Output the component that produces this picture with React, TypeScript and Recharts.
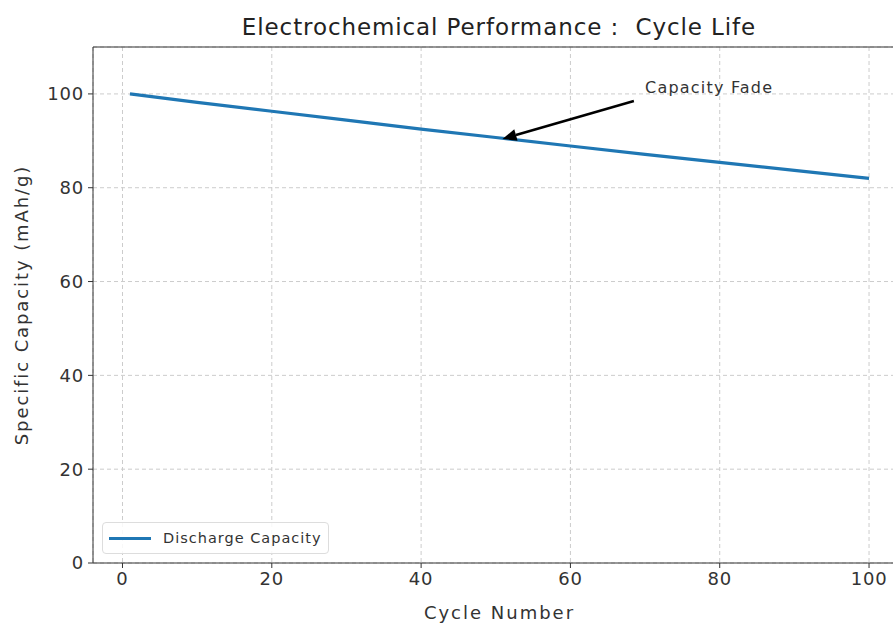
import React from "react";
import {
  LineChart,
  Line,
  XAxis,
  YAxis,
  CartesianGrid,
  ReferenceLine,
  ReferenceDot,
} from "recharts";

const cycles = [1, 10, 20, 30, 40, 50, 60, 70, 80, 90, 100];
const capacity = [100, 98.2, 96.3, 94.4, 92.5, 90.7, 88.9, 87.1, 85.4, 83.7, 82.0];
const xTicks = [0, 20, 40, 60, 80, 100];
const yTicks = [0, 20, 40, 60, 80, 100];

const data = cycles.map((c, i) => ({ cycle: c, cap: capacity[i] }));

const font = "'DejaVu Sans', sans-serif";

function Arrow(props: any) {
  const { x1, y1, x2, y2 } = props;
  if (x1 == null) return null;
  const ang = Math.atan2(y2 - y1, x2 - x1);
  const len = 14;
  const w = 6;
  const bx = x2 - len * Math.cos(ang);
  const by = y2 - len * Math.sin(ang);
  const px = -Math.sin(ang) * w;
  const py = Math.cos(ang) * w;
  return (
    <g>
      <line x1={x1} y1={y1} x2={bx} y2={by} stroke="#000" strokeWidth={2.5} />
      <polygon
        points={`${x2},${y2} ${bx + px},${by + py} ${bx - px},${by - py}`}
        fill="#000"
      />
    </g>
  );
}

export default function App() {
  return (
    <div
      style={{
        position: "fixed",
        left: 0,
        top: 0,
        width: 893,
        height: 627,
        overflow: "hidden",
        background: "#fff",
      }}
    >
      <div
        style={{
          position: "absolute",
          top: 14,
          left: 0,
          width: 998,
          textAlign: "center",
          fontFamily: font,
          fontSize: 23,
          letterSpacing: 0.9,
          color: "#222",
        }}
      >
        Electrochemical Performance :&nbsp; Cycle Life
      </div>
      <LineChart
        width={910}
        height={627}
        data={data}
        margin={{ top: 47, right: 4, left: 13, bottom: 34 }}
      >
        <CartesianGrid stroke="#ccc" strokeDasharray="4 3" />
        <XAxis
          dataKey="cycle"
          type="number"
          domain={[-3.95, 104.95]}
          ticks={xTicks}
          allowDataOverflow
          height={30}
          tickSize={5}
          tickMargin={4}
          stroke="#333"
          tick={{ fill: "#333", fontSize: 18, fontFamily: font, letterSpacing: 0.8 }}
          label={{
            value: "Cycle Number",
            position: "bottom",
            offset: 13,
            style: { fill: "#333", fontSize: 18, fontFamily: font, letterSpacing: 2 },
          }}
        />
        <YAxis
          type="number"
          domain={[0, 110]}
          ticks={yTicks}
          allowDataOverflow
          width={80}
          tickSize={5}
          tickMargin={4}
          stroke="#333"
          tick={{ fill: "#333", fontSize: 18, fontFamily: font, letterSpacing: 0.8 }}
          label={{
            value: "Specific Capacity (mAh/g)",
            angle: -90,
            position: "insideLeft",
            offset: 9,
            style: {
              fill: "#333",
              fontSize: 18,
              fontFamily: font,
              letterSpacing: 1.9,
              textAnchor: "middle",
            },
          }}
        />
        <ReferenceLine y={110} stroke="#333" strokeWidth={1.2} />
        <Line
          dataKey="cap"
          stroke="#1f77b4"
          strokeWidth={3.2}
          dot={false}
          isAnimationActive={false}
          type="linear"
        />
        <ReferenceLine
          segment={[
            { x: 68.5, y: 98.5 },
            { x: 50.9, y: 90.4 },
          ]}
          shape={<Arrow />}
        />
        <ReferenceDot
          x={70}
          y={100}
          r={0}
          shape={(p: any) => (
            <text
              x={p.cx}
              y={p.cy - 1}
              fill="#333"
              fontSize={16}
              fontFamily={font}
              style={{ letterSpacing: 1.2 }}
            >
              Capacity Fade
            </text>
          )}
        />
      </LineChart>
      <div
        style={{
          position: "absolute",
          left: 102,
          top: 522,
          width: 225,
          height: 30,
          border: "1px solid #ddd",
          borderRadius: 4,
          background: "rgba(255,255,255,0.85)",
          display: "flex",
          alignItems: "center",
          fontFamily: font,
          fontSize: 14.5,
          letterSpacing: 1,
          color: "#333",
        }}
      >
        <div
          style={{
            width: 42,
            height: 3,
            background: "#1f77b4",
            marginLeft: 6,
            marginRight: 12,
          }}
        />
        Discharge Capacity
      </div>
    </div>
  );
}
